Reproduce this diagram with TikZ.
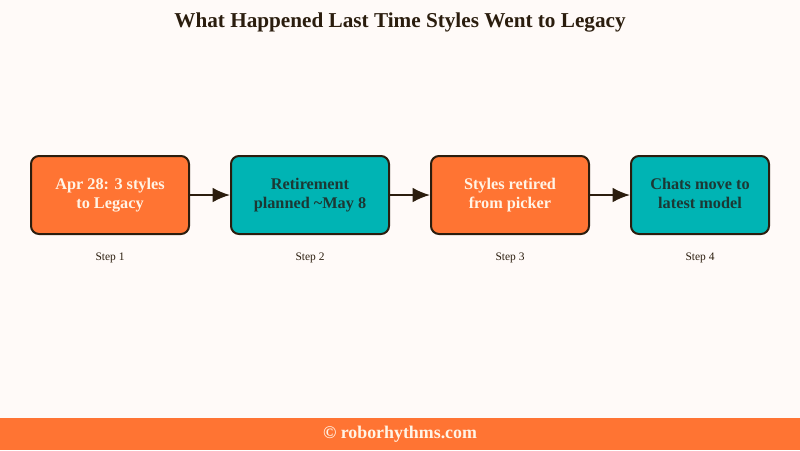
\documentclass[tikz,border=0pt]{standalone}
\usepackage{fontspec}
\setmainfont{Liberation Serif}
\usetikzlibrary{positioning,arrows.meta}
\definecolor{paper}{HTML}{FFFAF8}
\definecolor{ink}{HTML}{2B1D0E}
\definecolor{hotorange}{HTML}{FF7433}
\definecolor{teal}{HTML}{00B4B4}
\definecolor{cream}{HTML}{FFF4E6}
\definecolor{deepteal}{HTML}{1C3834}
\tikzset{box/.style={rectangle,rounded corners=6pt,draw=ink,line width=1.5pt,
		minimum width=118.5pt,minimum height=58.5pt,align=center,
		font=\fontsize{12.2}{14.8}\selectfont\bfseries},
	 obox/.style={box,fill=hotorange,text=cream},
	 tbox/.style={box,fill=teal,text=deepteal},
	 steplab/.style={label={[font=\fontsize{8.6}{10}\selectfont,text=ink,label distance=10pt]below:#1}},
	 flow/.style={draw=ink,line width=1.5pt,-{Latex[length=13pt,width=11pt]}},
	 node distance = 30pt
	 }

\begin{document}
\begin{tikzpicture}[x=0.75pt,y=-0.75pt] % four steps, left to right
	\fill[paper] (0,0) rectangle (800,450);
	\fill[hotorange] (0,418) rectangle (800,450);
	\node[font=\fontsize{15.9}{18}\selectfont\bfseries,text=ink] (title) at (400,22) {What Happened Last Time Styles Went to Legacy};
	\node[obox] (s1) at (110,195) [steplab={Step 1}] {\strut Apr 28: 3 styles\\to Legacy\strut};
	\node[tbox] (s2) [right= of s1] [steplab={Step 2}] {\strut Retirement\\planned \textasciitilde May 8\strut};
	\node[obox] (s3) [right= of s2] [steplab={Step 3}] {\strut Styles retired\\from picker\strut};
	\node[tbox,minimum width=103.5pt] (s4) [right= of s3] [steplab={Step 4}] {\strut Chats move to\\latest model\strut};
	\draw[flow] (s1) to (s2);
	\draw[flow] (s2) to (s3);
	\draw[flow] (s3) to (s4);
	\node[font=\fontsize{13.4}{15}\selectfont\bfseries,text=cream] (foot) at (400,434) {\textcopyright{} roborhythms.com};
\end{tikzpicture}
\end{document}
